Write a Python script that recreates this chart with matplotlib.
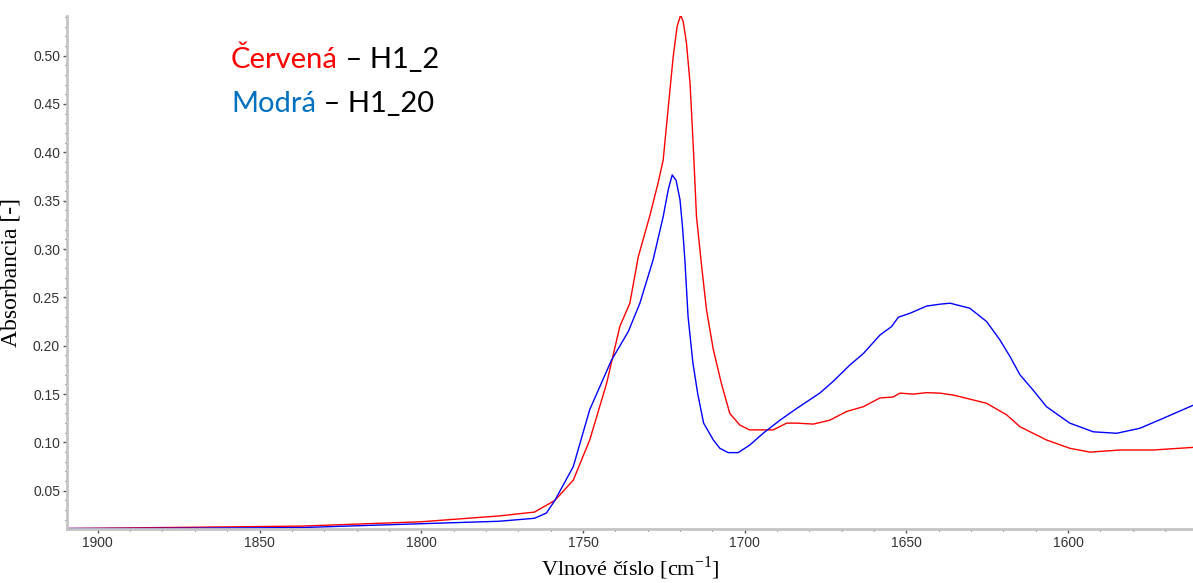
import matplotlib
matplotlib.use('Agg')
import matplotlib.pyplot as plt
from matplotlib.ticker import MultipleLocator
from matplotlib.offsetbox import TextArea, HPacker, VPacker, AnchoredOffsetbox

# Vlnové číslo [cm-1] a absorbancia pre vzorku H1_2 (červená)
wn_h1_2 = [1910, 1880, 1837, 1800, 1776, 1765, 1758.7, 1753.0, 1747.9, 1742.7, 1738.6,
           1735.5, 1732.9, 1729.4, 1726.8, 1725.2, 1723.7, 1722.1, 1720.9, 1719.8,
           1719.0, 1718.0, 1716.9, 1716.2, 1715.7, 1714.9, 1713.3, 1711.8, 1709.7, 1707.2,
           1704.6, 1701.5, 1698.5, 1695.3, 1691.2, 1687.0, 1683.9, 1678.8, 1673.7,
           1668.5, 1663.3, 1658.2, 1654.1, 1652.0, 1647.9, 1643.8, 1639.6, 1635.5,
           1625.2, 1619.0, 1614.9, 1606.7, 1599.5, 1593.3, 1584.0, 1573.7, 1561.0]
abs_h1_2 = [0.011, 0.012, 0.0135, 0.018, 0.024, 0.028, 0.040, 0.061, 0.1026, 0.161, 0.220,
            0.244, 0.292, 0.3335, 0.368, 0.392, 0.444, 0.499, 0.530, 0.542,
            0.535, 0.513, 0.4715, 0.4266, 0.392, 0.3335, 0.282, 0.237, 0.196, 0.161,
            0.130, 0.118, 0.113, 0.113, 0.113, 0.120, 0.120, 0.119, 0.123,
            0.132, 0.137, 0.146, 0.147, 0.151, 0.150, 0.1515, 0.151, 0.149,
            0.1405, 0.1285, 0.1163, 0.1026, 0.094, 0.090, 0.0922, 0.0922, 0.095]

# Vzorka H1_20 (modrá)
wn_h1_20 = [1910, 1880, 1837, 1800, 1776, 1765, 1761.3, 1758.7, 1753.0, 1747.9, 1741.2,
            1736.0, 1732.4, 1728.3, 1725.2, 1723.6, 1722.4, 1721.2, 1720.0, 1719.2, 1718.5,
            1717.5, 1716.0, 1714.5, 1712.7, 1709.7, 1707.7, 1705.1, 1702.0, 1698.4, 1694.3,
            1689.1, 1684.0, 1676.8, 1672.7, 1667.5, 1663.3, 1658.2, 1654.6, 1652.5, 1648.9,
            1643.8, 1639.6, 1636.5, 1630.4, 1625.2, 1621.1, 1618.0, 1614.9, 1610.8,
            1606.7, 1599.5, 1592.2, 1585.0, 1577.8, 1570.6, 1561.0]
abs_h1_20 = [0.011, 0.0112, 0.012, 0.016, 0.0185, 0.0216, 0.027, 0.040, 0.075, 0.134, 0.185,
             0.2146, 0.244, 0.289, 0.3335, 0.362, 0.3766, 0.371, 0.351, 0.322, 0.289,
             0.230, 0.182, 0.150, 0.120, 0.1026, 0.094, 0.0895, 0.0895, 0.0974, 0.1095,
             0.123, 0.135, 0.151, 0.163, 0.180, 0.192, 0.211, 0.2198, 0.2295, 0.2336,
             0.241, 0.243, 0.244, 0.2388, 0.225, 0.206, 0.189, 0.170, 0.154,
             0.137, 0.120, 0.111, 0.1095, 0.1147, 0.125, 0.139]

fig = plt.figure(figsize=(11.93, 5.83), dpi=100)
ax = fig.add_axes([0.0562, 0.0926, 0.9438, 0.88])

ax.plot(wn_h1_2, abs_h1_2, color='#ff0000', lw=1.0)
ax.plot(wn_h1_20, abs_h1_20, color='#0000ff', lw=1.0)

ax.set_xlim(1909.5, 1561.4)
ax.set_ylim(0.0105, 0.541)

ax.xaxis.set_major_locator(MultipleLocator(50))
ax.xaxis.set_minor_locator(MultipleLocator(10))
ax.yaxis.set_major_locator(MultipleLocator(0.05))
ax.yaxis.set_minor_locator(MultipleLocator(0.01))
ax.yaxis.set_major_formatter(plt.FuncFormatter(lambda v, p: f'{v:.2f}'))

for s in ['top', 'right']:
    ax.spines[s].set_visible(False)
for s in ['left', 'bottom']:
    ax.spines[s].set_color('#c4c4c4')
    ax.spines[s].set_linewidth(2.0)

ax.tick_params(which='major', direction='out', length=3, width=1, color='#555555',
               labelsize=10, labelcolor='#333333', pad=2)
ax.tick_params(which='minor', direction='out', length=1.5, width=0.8, color='#555555')
for lab in ax.get_xticklabels() + ax.get_yticklabels():
    lab.set_fontfamily('Liberation Sans')

ax.set_xlabel('Vlnové číslo [cm$^{\\mathregular{-1}}$]', fontfamily='Liberation Serif',
              fontsize=16, labelpad=3)
ax.set_ylabel('Absorbancia [-]', fontfamily='Liberation Serif', fontsize=17, labelpad=8)

# popis kriviek
tp = dict(fontfamily='Lato', fontsize=21)
row1 = HPacker(children=[TextArea('Červená', textprops=dict(color='#ff0000', **tp)),
                         TextArea(' – H1_2', textprops=dict(color='black', **tp))],
               pad=0, sep=0)
row2 = HPacker(children=[TextArea('Modrá', textprops=dict(color='#0070c0', **tp)),
                         TextArea(' – H1_20', textprops=dict(color='black', **tp))],
               pad=0, sep=0)
box = VPacker(children=[row1, row2], pad=0, sep=13)
anchored = AnchoredOffsetbox(loc='upper left', child=box, frameon=False,
                             bbox_to_anchor=(231, 583 - 46), bbox_transform=None,
                             borderpad=0, pad=0)
ax.add_artist(anchored)

fig.savefig('out.png', dpi=100)
